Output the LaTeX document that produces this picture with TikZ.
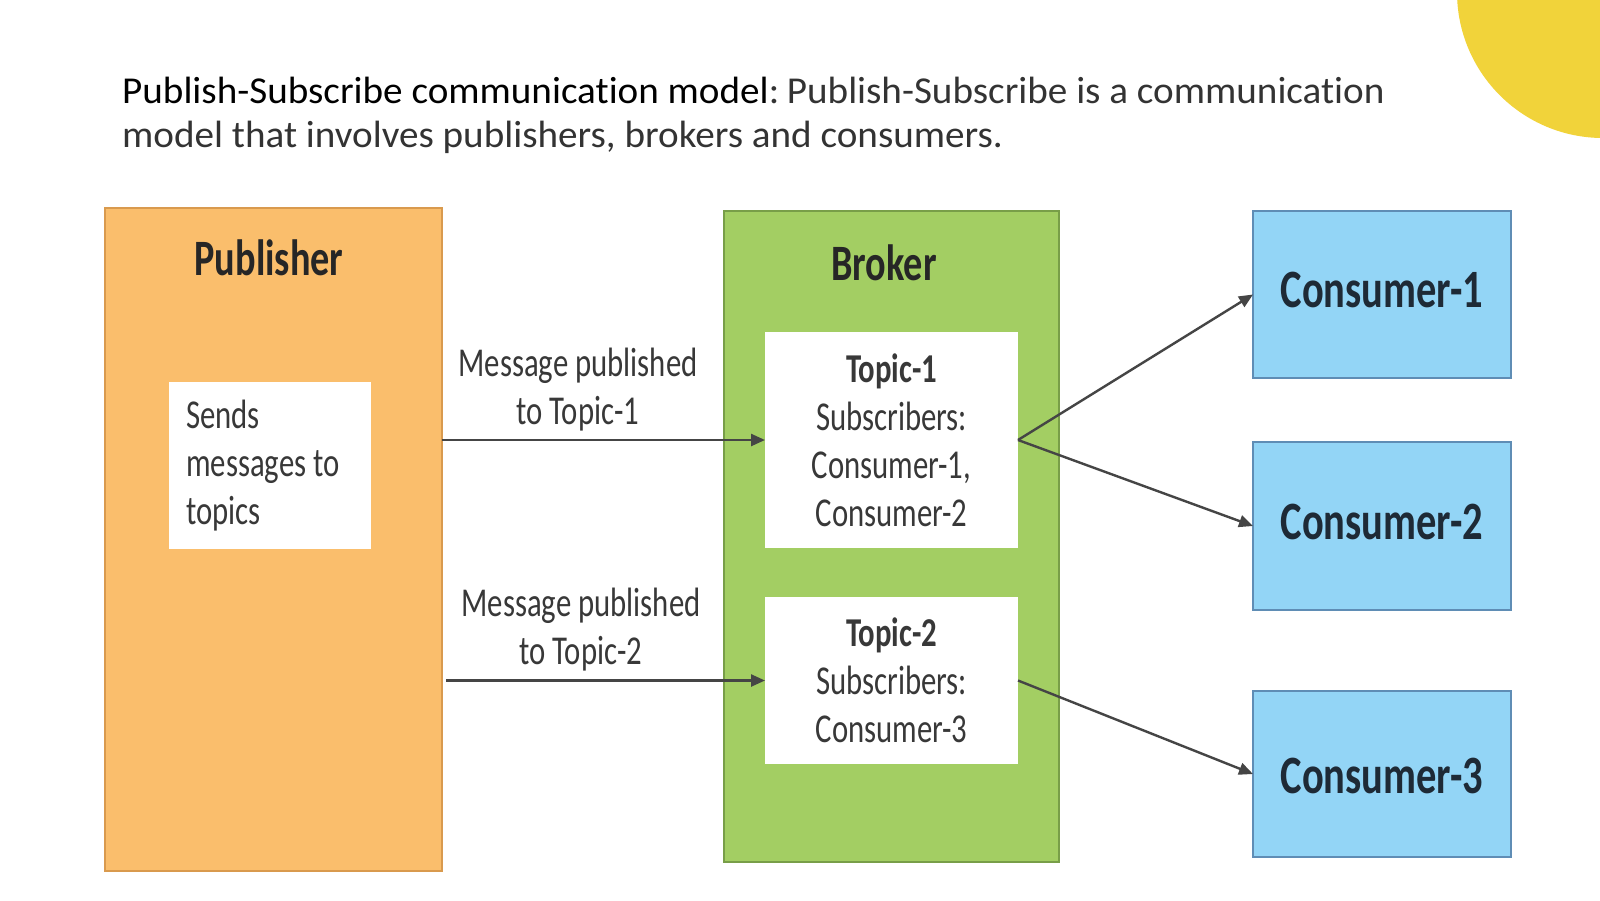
\documentclass[tikz,border=0pt]{standalone}
\usepackage{fontspec}
\setmainfont{Carlito}[Ligatures=NoCommon]
\newfontfamily\cf[FakeStretch=0.75,Ligatures=NoCommon]{Carlito}
\newfontfamily\tf[FakeStretch=1.03,Ligatures=NoCommon]{Carlito}
\usetikzlibrary{arrows.meta}
\definecolor{pubfill}{HTML}{FABE6C}
\definecolor{publine}{HTML}{D99A4E}
\definecolor{brkfill}{HTML}{A3CE63}
\definecolor{brkline}{HTML}{789E48}
\definecolor{confill}{HTML}{93D5F6}
\definecolor{conline}{HTML}{5F8DB5}
\definecolor{context}{HTML}{1E2A36}
\definecolor{arrcol}{HTML}{454545}
\definecolor{txtcol}{HTML}{383838}
\definecolor{sun}{HTML}{F1D33A}
\begin{document}
\begin{tikzpicture}[x=1pt,y=-1pt,
  box/.style={inner sep=0pt, outer sep=0pt, anchor=north west, line width=1.6pt},
  pubbox/.style={box, fill=pubfill, draw=publine},
  brkbox/.style={box, fill=brkfill, draw=brkline},
  conbox/.style={box, fill=confill, draw=conline},
  context/.style={font=\cf\bfseries\fontsize{54}{60}\selectfont, text=context, inner sep=0pt},
  whitebox/.style={box, fill=white},
  head/.style={font=\cf\bfseries\fontsize{51}{58}\selectfont, text=black!85},
  small/.style={font=\cf\fontsize{41}{48}\selectfont, text=txtcol, align=center, inner sep=0pt},
  arr/.style={draw=arrcol, line width=2.4pt, -{Triangle[length=14pt,width=12pt]}}
]
\useasboundingbox (0,0) rectangle (1600,900);
\fill[white] (0,0) rectangle (1600,900);
\begin{scope}
\clip (0,0) rectangle (1600,900);
\fill[sun] (1603,-8) circle (146);
\end{scope}
% title
\node[anchor=base west, inner sep=0pt, font=\tf\fontsize{38}{44}\selectfont] (title1) at (122,103)
  {Publish-Subscribe communication model{\color{black!80}:\hspace{0.2em}Publish-Subscribe is a communication}};
\node[anchor=base west, inner sep=0pt, font=\tf\fontsize{38}{44}\selectfont, text=black!80] (title2) at (122,147)
  {model that involves publishers, brokers and consumers.};
% boxes
\node[pubbox, minimum width=337pt, minimum height=663pt] (pub) at (105,208) {};
\node[brkbox, minimum width=335pt, minimum height=651pt] (brk) at (724,211) {};
\node[whitebox, minimum width=202pt, minimum height=167pt] (send) at (169,382) {};
\node[whitebox, minimum width=253pt, minimum height=216pt] (t1) at (765,332) {};
\node[whitebox, minimum width=253pt, minimum height=167pt] (t2) at (765,597) {};
\node[conbox, minimum width=258pt, minimum height=167pt] (c1) at (1253,211) {};
\node[conbox, minimum width=258pt, minimum height=168pt] (c2) at (1253,442) {};
\node[conbox, minimum width=258pt, minimum height=166pt] (c3) at (1253,691) {};
\node[context] (c1t) at ([yshift=5pt]c1.center) {Consumer-1};
\node[context] (c2t) at ([yshift=4pt]c2.center) {Consumer-2};
\node[context] (c3t) at ([yshift=-2pt]c3.center) {Consumer-3};
% texts
\node[head] (pubt) at (269,258) {Publisher};
\node[head] (brkt) at (884,263) {Broker};
\node[small, align=left, anchor=west] (sendt) at (186,466) {Sends\\messages to\\topics};
\node[small] (t1t) at (t1.center) {{\bfseries Topic-1}\\Subscribers:\\Consumer-1,\\Consumer-2};
\node[small] (t2t) at (t2.center) {{\bfseries Topic-2}\\Subscribers:\\Consumer-3};
\node[small] (lab1) at (578,390) {Message published\\to Topic-1};
\node[small] (lab2) at (581,630) {Message published\\to Topic-2};
% arrows
\draw[arr] (t1.west -| pub.east) -- (t1.west);
\draw[arr] (t2.west -| pub.east) ++(4,0) -- (t2.west);
\draw[arr] (t1.east) -- (c1.west);
\draw[arr] (t1.east) -- (c2.west);
\draw[arr] (t2.east) -- (c3.west);
\end{tikzpicture}
\end{document}
